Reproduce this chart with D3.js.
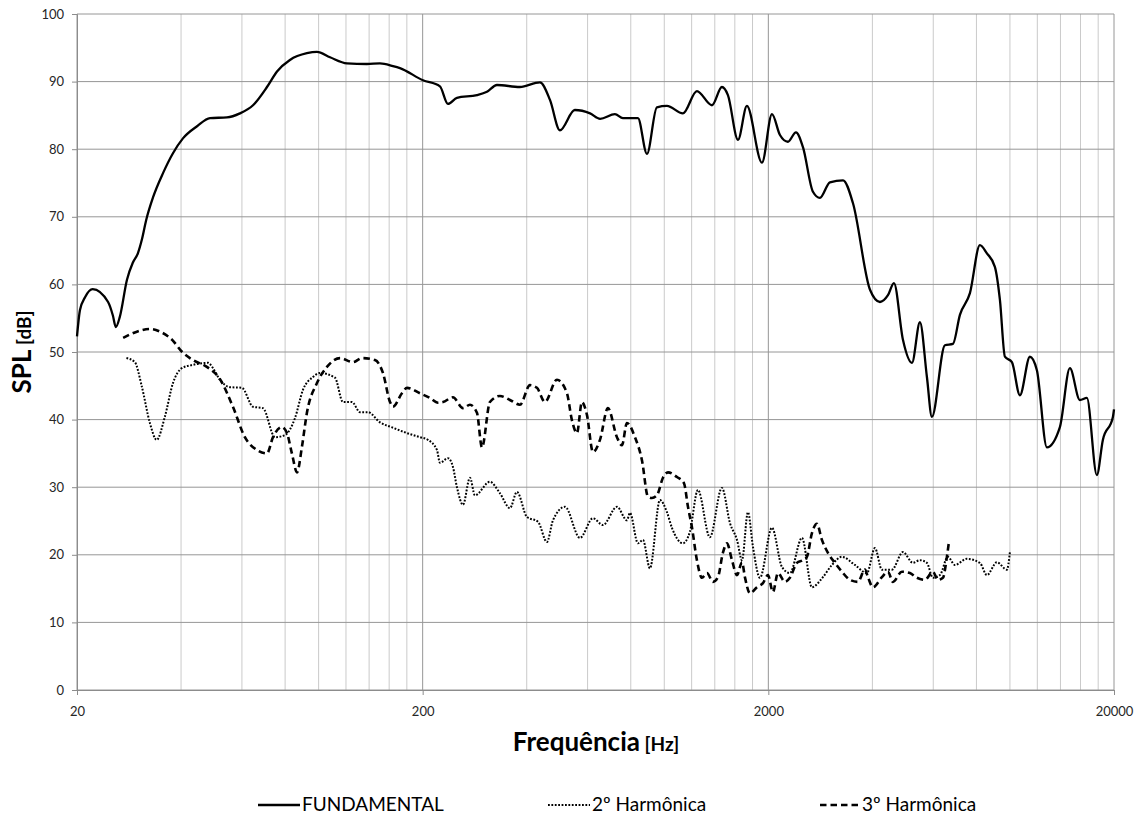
<!DOCTYPE html>
<html>
<head>
<meta charset="utf-8">
<script src="https://cdn.jsdelivr.net/npm/d3@7"></script>
<style>
  html, body { margin: 0; padding: 0; background: #fff; }
  svg { display: block; font-family: Lato, "Open Sans", sans-serif; }
</style>
</head>
<body>
<svg id="chart" width="1141" height="816"></svg>
<script>
// Frequency response of the driver and its harmonic distortion (Hz, dB SPL)
const fundFreq = [20, 20.4, 21.1, 22.2, 24.6, 25.4, 25.9, 26.6, 27.9, 29.0, 30.0, 30.8, 31.7, 33.2, 35.5, 37.9,
  40.5, 44.5, 48.5, 54.3, 59.2, 64.6, 70.9, 75.8, 82.6, 92.5, 98.9, 107.9, 120.8, 138, 150.5, 164.1, 171.9,
  200.4, 224.4, 236.7, 251.3, 287.2, 306.9, 328.1, 382.2, 436.8, 467, 499, 551, 610, 652, 720, 759, 839, 891,
  952, 1018, 1132, 1243, 1374, 1468, 1528, 1634, 1734, 1917, 2049, 2161, 2279, 2404, 2519, 2692, 2820, 3014,
  3289, 3515, 3937, 4207, 4437, 4618, 4903, 5206, 5490, 5752, 5945, 6484, 6840, 7166, 7660, 8186, 8578, 9046,
  9354, 9670, 10132, 10686, 11422, 11966, 12790, 13948, 14908, 15932, 16692, 17842, 18570, 19854, 20000];
const fundSPL = [52.3, 56.2, 58.1, 59.3, 57.4, 55.4, 53.7, 55.2, 60.7, 63.2, 64.6, 66.6, 69.5, 72.9, 76.5, 79.4,
  81.6, 83.4, 84.6, 84.7, 85.3, 86.5, 89.2, 91.5, 93.2, 94.2, 94.4, 93.6, 92.7, 92.6, 92.7, 92.3, 92.0,
  90.2, 89.3, 86.7, 87.6, 88.0, 88.5, 89.5, 89.2, 89.9, 87.3, 82.8, 85.8, 85.3, 84.5, 85.2, 84.6, 84.6, 79.3,
  86.2, 86.4, 85.3, 88.6, 86.5, 89.2, 88.0, 81.4, 86.4, 78.0, 85.2, 82.1, 81.1, 82.5, 80.3, 73.7, 72.8, 75.1,
  75.4, 72.0, 59.2, 57.4, 58.4, 60.2, 51.8, 48.4, 54.4, 46.3, 40.4, 51.0, 51.2, 55.5, 58.7, 65.8, 64.6, 62.6,
  57.7, 49.3, 48.5, 43.6, 49.3, 47.3, 35.9, 38.9, 47.6, 42.9, 43.2, 31.8, 37.0, 40.4, 41.5];

const h2Freq = [27.8, 29.4, 30.8, 32.5, 34.0, 35.9, 37.9, 40.2, 43.3, 47.9, 49.5, 51.8, 55.4, 60.0, 64.6, 69.0,
  74.8, 79.9, 85.4, 90.1, 96.3, 100.9, 111.5, 117.6, 124.9, 131.7, 138.9, 150.5, 164.1, 180.2, 196.4, 207.2,
  220.0, 224.4, 236.7, 244.7, 251.3, 261.6, 274.1, 283.3, 313.1, 334.7, 357.7, 374.8, 400.6, 431.1, 457.7,
  476.4, 516.0, 570.2, 621.8, 664.6, 729.6, 779.8, 795.6, 839.1, 867.5, 908.9, 971.5, 1018, 1052, 1132, 1186,
  1251, 1355, 1468, 1549, 1623, 1678, 1746, 1805, 1891, 2049, 2190, 2309, 2502, 2674, 2877, 3055, 3265, 3561,
  3857, 4068, 4262, 4556, 4902, 5240, 5490, 5752, 5986, 6272, 6615, 6931, 7508, 8187, 8578, 9168, 9800, 9998];
const h2SPL = [49.1, 48.5, 44.9, 39.5, 37.0, 40.4, 45.4, 47.6, 48.1, 48.4, 47.6, 45.9, 44.8, 44.7, 41.9, 41.7,
  37.4, 37.7, 40.2, 44.4, 46.3, 46.9, 46.2, 42.6, 42.6, 41.1, 41.1, 39.6, 38.8, 38.0, 37.4, 37.0,
  35.5, 33.6, 34.3, 33.0, 30.0, 27.4, 31.4, 28.8, 30.8, 29.1, 26.9, 29.3, 25.6, 24.9, 21.9,
  25.1, 27.1, 22.5, 25.4, 24.4, 27.1, 25.1, 26.2, 21.7, 22.2, 18.0, 28.1, 26.3, 24.0, 21.7, 23.4,
  29.6, 22.6, 29.9, 24.7, 22.2, 19.2, 26.3, 21.2, 16.6, 24.0, 18.2, 17.3, 22.5, 15.2, 16.7, 18.5, 19.7, 18.5,
  17.3, 21.0, 17.8, 17.8, 20.4, 18.8, 19.2, 18.8, 16.6, 17.0, 19.7, 18.5, 19.4, 18.8, 17.0, 18.9, 17.8, 20.4];

const h3Freq = [27.2, 29.8, 32.5, 34.8, 37.7, 40.3, 43.3, 47.5, 51.8, 56.5, 61.2, 66.3, 70.9, 73.8, 78.3, 81.0,
  83.7, 86.6, 89.5, 92.5, 98.9, 105.7, 115.3, 125.7, 133.5, 145.6, 153.5, 160.9, 164.1, 174.2, 180.2, 196.4,
  210.0, 221.5, 229.0, 244.7, 261.6, 274.1, 287.1, 296.9, 313.1, 334.7, 357.7, 382.4, 408.7, 428.2, 451.6,
  489.2, 522.9, 540.6, 558.9, 577.9, 597.4, 621.8, 651.5, 687.1, 729.6, 754.3, 779.8, 822.5, 861.8, 896.9,
  921.1, 952.3, 991.2, 1025, 1088, 1140, 1171, 1202, 1243, 1285, 1329, 1383, 1430, 1478, 1518, 1570, 1623,
  1678, 1711, 1769, 1854, 1929, 1995, 2062, 2132, 2234, 2309, 2420, 2518, 2586, 2674, 2764, 2858, 2975, 3117,
  3265, 3444, 3633, 3806, 3883, 4015, 4262, 4436, 4586, 4870, 5136, 5381, 5676, 5986, 6189, 6399, 6571, 6660];
const h3SPL = [52.1, 53.0, 53.4, 53.0, 51.8, 50.0, 48.8, 47.8, 46.0, 41.9, 37.4, 35.5, 35.0, 37.4, 38.9, 38.0,
  35.0, 32.2, 36.0, 41.0, 45.4, 47.8, 49.1, 48.5, 49.1, 48.8, 46.9, 42.6, 41.9, 43.9, 44.7, 43.9,
  43.2, 42.5, 42.6, 43.3, 41.7, 42.2, 41.0, 35.9, 42.6, 43.5, 42.9, 42.2, 45.1, 44.7, 42.6,
  45.9, 43.9, 39.9, 38.0, 42.6, 40.7, 35.2, 37.0, 41.7, 37.4, 36.2, 39.5, 37.4, 34.0, 28.6,
  28.4, 28.8, 31.4, 32.2, 31.5, 30.6, 27.1, 24.1, 19.2, 16.6, 17.3, 16.0, 16.7, 20.3, 21.7, 19.2, 17.0,
  18.9, 16.7, 14.3, 15.2, 15.8, 17.0, 14.5, 17.3, 16.0, 16.6, 18.8, 19.2, 19.7, 23.2, 24.6, 22.2, 20.3, 18.8,
  17.5, 16.3, 16.0, 17.8, 16.7, 15.2, 16.7, 17.5, 16.0, 17.5, 17.3, 16.6, 16.3, 17.5, 16.3, 16.6, 19.7, 21.9];

const xTicks = [20, 200, 2000, 20000];
const yTicks = [0, 10, 20, 30, 40, 50, 60, 70, 80, 90, 100];
const seriesNames = ["FUNDAMENTAL", "2º Harmônica", "3º Harmônica"];

const svg = d3.select("#chart");
const plot = { left: 77, right: 1114, top: 14, bottom: 690 };

const x = d3.scaleLog().domain([20, 20000]).range([plot.left, plot.right]);
const y = d3.scaleLinear().domain([0, 100]).range([plot.bottom, plot.top]);

// minor vertical gridlines: 2..9 times each decade start
const minorX = [];
xTicks.slice(0, -1).forEach(d => { for (let k = 2; k <= 9; k++) minorX.push(d * k); });

const grid = svg.append("g");
grid.selectAll("line.minor").data(minorX).join("line")
  .attr("x1", d => x(d)).attr("x2", d => x(d))
  .attr("y1", plot.top).attr("y2", plot.bottom)
  .attr("stroke", "#cacaca").attr("stroke-width", 1);
grid.selectAll("line.majx").data(xTicks).join("line")
  .attr("x1", d => x(d)).attr("x2", d => x(d))
  .attr("y1", plot.top).attr("y2", plot.bottom)
  .attr("stroke", "#969696").attr("stroke-width", 1);
grid.selectAll("line.majy").data(yTicks).join("line")
  .attr("x1", plot.left).attr("x2", plot.right)
  .attr("y1", d => y(d)).attr("y2", d => y(d))
  .attr("stroke", "#969696").attr("stroke-width", 1);

// axes
const xAxis = svg.append("g").attr("transform", `translate(0,${plot.bottom})`)
  .call(d3.axisBottom(x).tickValues(xTicks).tickFormat(d3.format("d")).tickSize(5).tickPadding(12));
const yAxis = svg.append("g").attr("transform", `translate(${plot.left},0)`)
  .call(d3.axisLeft(y).tickValues(yTicks).tickSize(5).tickPadding(8));
[xAxis, yAxis].forEach(a => {
  a.select(".domain").attr("stroke", "#8c8c8c");
  a.selectAll(".tick line").attr("stroke", "#8c8c8c");
  a.selectAll(".tick text").attr("fill", "#262626").style("font-size", "13px")
    .style("font-family", "Lato, sans-serif");
});

// series lines
const lineGen = d3.line().x(d => x(d[0])).y(d => y(d[1])).curve(d3.curveMonotoneX);
const series = [
  { f: fundFreq, v: fundSPL, width: 2.3, dash: null },
  { f: h2Freq, v: h2SPL, width: 2, dash: "1.8,1.6" },
  { f: h3Freq, v: h3SPL, width: 2.6, dash: "6.5,4" }
];
series.forEach(s => {
  svg.append("path")
    .datum(s.f.map((f, i) => [f, s.v[i]]))
    .attr("d", lineGen)
    .attr("fill", "none")
    .attr("stroke", "#000")
    .attr("stroke-width", s.width)
    .attr("stroke-linejoin", "round")
    .attr("stroke-dasharray", s.dash);
});

// axis titles
svg.append("text")
  .attr("x", 596).attr("y", 751)
  .attr("text-anchor", "middle")
  .attr("font-weight", "bold").attr("fill", "#000")
  .style("font-size", "26px")
  .text("Frequência")
  .append("tspan").style("font-size", "19px").text(" [Hz]");

svg.append("text")
  .attr("transform", "translate(31,352) rotate(-90)")
  .attr("text-anchor", "middle")
  .attr("font-weight", "bold").attr("fill", "#000")
  .style("font-size", "26px")
  .text("SPL")
  .append("tspan").style("font-size", "19px").text(" [dB]");

// legend
const legendItems = [
  { x: 258, textX: 302, dash: null, width: 2.3 },
  { x: 548, textX: 592, dash: "1.8,1.6", width: 2 },
  { x: 820, textX: 862, dash: "6.5,4", width: 2.6 }
];
const legend = svg.append("g");
legendItems.forEach((d, i) => {
  legend.append("line")
    .attr("x1", d.x).attr("x2", d.textX - 2)
    .attr("y1", 805).attr("y2", 805)
    .attr("stroke", "#000").attr("stroke-width", d.width)
    .attr("stroke-dasharray", d.dash);
  legend.append("text")
    .attr("x", d.textX).attr("y", 811)
    .attr("fill", "#000")
    .style("font-size", "19px")
    .text(seriesNames[i]);
});
</script>
</body>
</html>
